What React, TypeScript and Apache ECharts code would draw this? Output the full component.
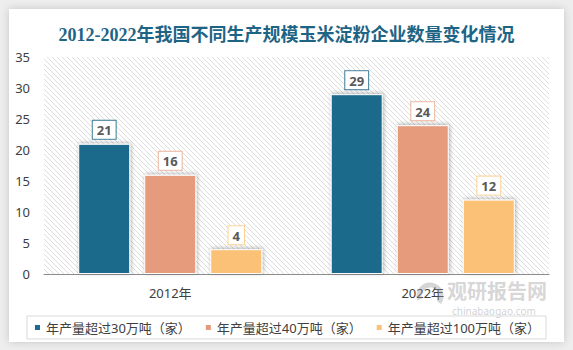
import React, { useEffect, useRef } from "react";
import * as echarts from "echarts";

const categories = ["2012年", "2022年"];
const seriesNames = ["年产量超过30万吨（家）", "年产量超过40万吨（家）", "年产量超过100万吨（家）"];
const over30 = [21, 29];
const over40 = [16, 24];
const over100 = [4, 12];
const colors = ["#1d6a8b", "#e59b7b", "#fbc176"];
const labelBorders = ["#3c7c99", "#ecb59c", "#fbd197"];
const titleText = "2012-2022年我国不同生产规模玉米淀粉企业数量变化情况";

function makeHatch(): HTMLCanvasElement {
  const c = document.createElement("canvas");
  c.width = 5;
  c.height = 5;
  const ctx = c.getContext("2d")!;
  ctx.fillStyle = "#ffffff";
  ctx.fillRect(0, 0, 5, 5);
  ctx.strokeStyle = "#dedede";
  ctx.lineWidth = 1;
  ctx.beginPath();
  ctx.moveTo(0, 0);
  ctx.lineTo(5, 5);
  ctx.moveTo(-1, 4);
  ctx.lineTo(1, 6);
  ctx.moveTo(4, -1);
  ctx.lineTo(6, 1);
  ctx.stroke();
  return c;
}

export default function App() {
  const ref = useRef<HTMLDivElement>(null);
  useEffect(() => {
    if (!ref.current) return;
    const chart = echarts.init(ref.current, undefined, { renderer: "svg" });
    const font = '"Noto Sans", "Noto Sans CJK SC", sans-serif';
    const data = [over30, over40, over100];
    chart.setOption({
      animation: false,
      backgroundColor: "#eeeeee",
      textStyle: { fontFamily: font },
      graphic: [
        {
          type: "rect",
          z: -10,
          shape: { x: 9, y: 9, width: 555, height: 333 },
          style: { fill: "#ffffff", shadowBlur: 8, shadowColor: "rgba(0,0,0,0.18)" },
          silent: true,
        },
        {
          type: "arc",
          z: 1,
          shape: { cx: 430, cy: 296, r: 11, startAngle: Math.PI * 0.9, endAngle: Math.PI * 2.2 },
          style: { fill: "none", stroke: "rgba(150,150,150,0.4)", lineWidth: 5 },
          silent: true,
        },
        {
          type: "text",
          z: 1,
          left: 447,
          top: 280,
          style: {
            text: "观研报告网",
            fontSize: 20,
            lineHeight: 20,
            fontWeight: "bold",
            fill: "rgba(150,150,150,0.4)",
            fontFamily: '"Noto Sans CJK SC", sans-serif',
          },
          silent: true,
        },
        {
          type: "text",
          z: 1,
          left: 452,
          top: 306,
          style: {
            text: "chinabaogao.com",
            fontSize: 10,
            lineHeight: 10,
            fill: "rgba(150,150,150,0.45)",
            fontFamily: font,
          },
          silent: true,
        },
      ],
      title: {
        text: titleText,
        left: "center",
        top: 21,
        textStyle: {
          fontSize: 18,
          fontWeight: "bold",
          color: "#1e6485",
          fontFamily: '"Liberation Serif", "Noto Sans CJK SC", serif',
        },
      },
      grid: {
        left: 44,
        right: 24,
        top: 57,
        bottom: 76,
        show: true,
        borderWidth: 0,
        backgroundColor: { image: makeHatch(), repeat: "repeat" } as any,
      },
      legend: {
        data: seriesNames,
        bottom: 11,
        left: "center",
        icon: "rect",
        itemWidth: 7,
        itemHeight: 7,
        itemGap: 13,
        borderColor: "#d9d9d9",
        borderWidth: 1,
        padding: [5, 6, 5, 6],
        textStyle: { fontSize: 13, color: "#404040", fontFamily: font },
      },
      xAxis: {
        type: "category",
        data: categories,
        axisLine: { lineStyle: { color: "#8c8c8c", width: 1 } },
        axisTick: { show: false },
        axisLabel: { fontSize: 13, color: "#404040", margin: 12 },
      },
      yAxis: {
        type: "value",
        min: 0,
        max: 35,
        interval: 5,
        axisLine: { show: false },
        axisTick: { show: false },
        splitLine: { show: false },
        axisLabel: { fontSize: 13, color: "#404040", margin: 14 },
      },
      series: seriesNames.map((name, i) => ({
        name,
        type: "bar",
        data: data[i],
        barWidth: 52,
        barGap: "27%",
        itemStyle: {
          color: colors[i],
          borderColor: "#ffffff",
          borderWidth: 1,
          shadowBlur: 4,
          shadowColor: "rgba(0,0,0,0.3)",
          shadowOffsetX: 1,
          shadowOffsetY: -1,
        },
        label: {
          show: true,
          position: "top",
          distance: 5,
          backgroundColor: "#ffffff",
          borderColor: labelBorders[i],
          borderWidth: 1,
          padding: [3, 4, 2, 4],
          color: "#595959",
          fontWeight: "bold",
          fontSize: 13,
          fontFamily: font,
        },
      })),
    });
    return () => chart.dispose();
  }, []);
  return (
    <div
      ref={ref}
      style={{ position: "fixed", left: 0, top: 0, width: 573, height: 350 }}
    />
  );
}
